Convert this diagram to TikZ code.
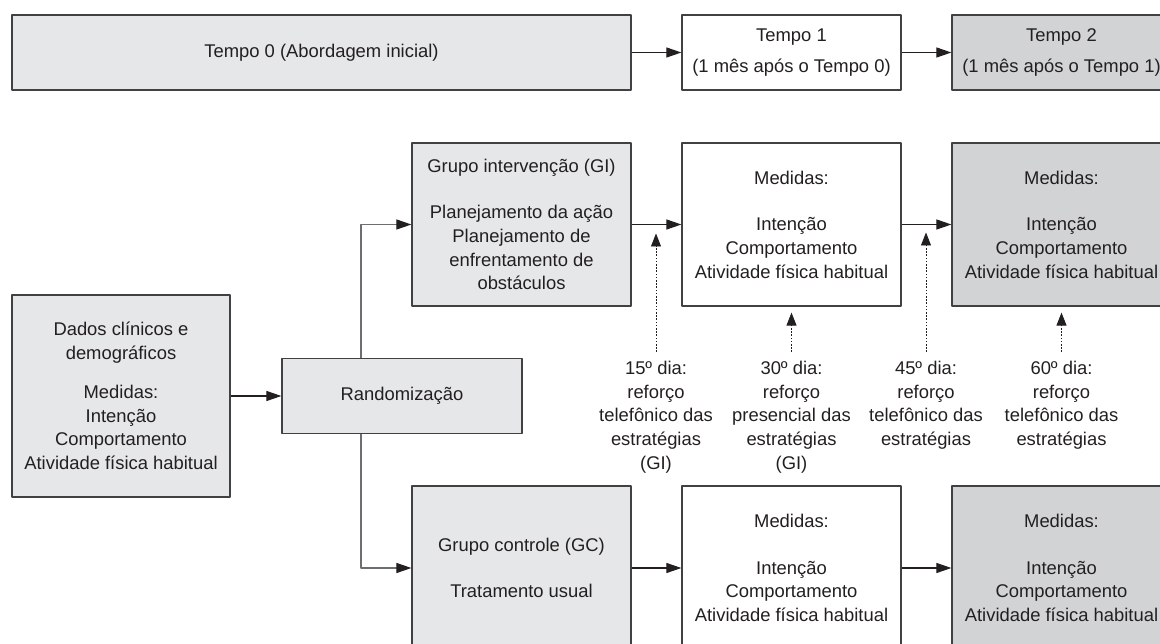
\documentclass[tikz,border=0pt]{standalone}
\usepackage{fontspec}
\setmainfont{Liberation Sans}
\usetikzlibrary{arrows.meta}
\definecolor{texto}{HTML}{231F20}
\definecolor{claro}{HTML}{E6E7E8}
\definecolor{escuro}{HTML}{D1D3D4}
\definecolor{borda}{HTML}{414042}
\definecolor{linha}{HTML}{6D6E71}
\begin{document}
\begin{tikzpicture}[x=1pt,y=-1pt,line join=round,
	font=\fontsize{18.4}{23.7}\selectfont, text=texto,
	caixa/.style={draw=borda, line width=1.2pt, inner sep=0pt, align=center, minimum width=219pt},
	seta/.style={draw=texto, line width=1.1pt, -{Triangle[length=15pt,width=10pt]}},
	ramo/.style={draw=linha, line width=1.1pt, -{Triangle[length=15pt,width=10pt,color=texto]}},
	pontos/.style={draw=texto, line width=0.8pt, dash pattern=on 1.6pt off 1.6pt, -{Triangle[length=13pt,width=10pt]}},
	reforco/.style={align=center, inner sep=0pt, anchor=north}]
	\def\xA{521.5} \def\xB{791.5} \def\xC{1061.5} % colunas
	\def\yA{52.5} \def\yB{224.5} \def\yC{568}   % linhas
	\useasboundingbox (0,0) rectangle (1160,644);
	\node[caixa, fill=claro, minimum width=619pt, minimum height=75pt] (t0) at (321.5,\yA) {Tempo 0 (Abordagem inicial)};
	\node[caixa, fill=white, minimum height=75pt] (t1) at (\xB,\yA) {Tempo 1\\[7pt](1 mês após o Tempo 0)};
	\node[caixa, fill=escuro, minimum height=75pt] (t2) at (\xC,\yA) {Tempo 2\\[7pt](1 mês após o Tempo 1)};
	\node[caixa, fill=claro, minimum width=218pt, minimum height=202pt] (dados) at (121,396) {Dados clínicos e\\demográficos\\[15pt]Medidas:\\Intenção\\Comportamento\\Atividade física habitual};
	\node[caixa, fill=claro, minimum width=240pt, minimum height=75pt] (rand) at (402,396) {Randomização};
	\node[caixa, fill=claro, minimum height=163pt] (gi) at (\xA,\yB) {Grupo intervenção (GI)\\[23pt]Planejamento da ação\\Planejamento de\\enfrentamento de\\obstáculos};
	\node[caixa, fill=white, minimum height=163pt] (m1) at (\xB,\yB) {Medidas:\\[23pt]Intenção\\Comportamento\\Atividade física habitual};
	\node[caixa, fill=escuro, minimum height=163pt] (m2) at (\xC,\yB) {Medidas:\\[23pt]Intenção\\Comportamento\\Atividade física habitual};
	\node[caixa, fill=claro, minimum height=164pt] (gc) at (\xA,\yC) {Grupo controle (GC)\\[22pt]Tratamento usual};
	\node[caixa, fill=white, minimum height=164pt] (c1) at (\xB,\yC) {Medidas:\\[23pt]Intenção\\Comportamento\\Atividade física habitual};
	\node[caixa, fill=escuro, minimum height=164pt] (c2) at (\xC,\yC) {Medidas:\\[23pt]Intenção\\Comportamento\\Atividade física habitual};
	\node[reforco] (d15) at (656,361) {15º dia:\\reforço\\telefônico das\\estratégias\\(GI)};
	\node[reforco] (d30) at (791.5,361) {30º dia:\\reforço\\presencial das\\estratégias\\(GI)};
	\node[reforco] (d45) at (926,361) {45º dia:\\reforço\\telefônico das\\estratégias};
	\node[reforco] (d60) at (1061.5,361) {60º dia:\\reforço\\telefônico das\\estratégias};
	\coordinate (split) at (361,396);
	\draw[seta] (t0) -- (t1);
	\draw[seta] (t1) -- (t2);
	\draw[seta] (dados) -- (rand);
	\draw[ramo] (rand.north -| split) |- (gi.west);
	\draw[ramo] (rand.south -| split) |- (gc.west);
	\draw[seta] (gi) -- (m1);
	\draw[seta] (m1) -- (m2);
	\draw[seta] (gc) -- (c1);
	\draw[seta] (c1) -- (c2);
	\draw[pontos, shorten >=9pt] ([yshift=9pt]d15.north) -- (d15.north |- gi.east);
	\draw[pontos, shorten >=6pt] ([yshift=9pt]d30.north) -- (d30.north |- m1.south);
	\draw[pontos, shorten >=8pt] ([yshift=9pt]d45.north) -- (d45.north |- m1.east);
	\draw[pontos, shorten >=6pt] ([yshift=9pt]d60.north) -- (d60.north |- m2.south);
\end{tikzpicture}
\end{document}
